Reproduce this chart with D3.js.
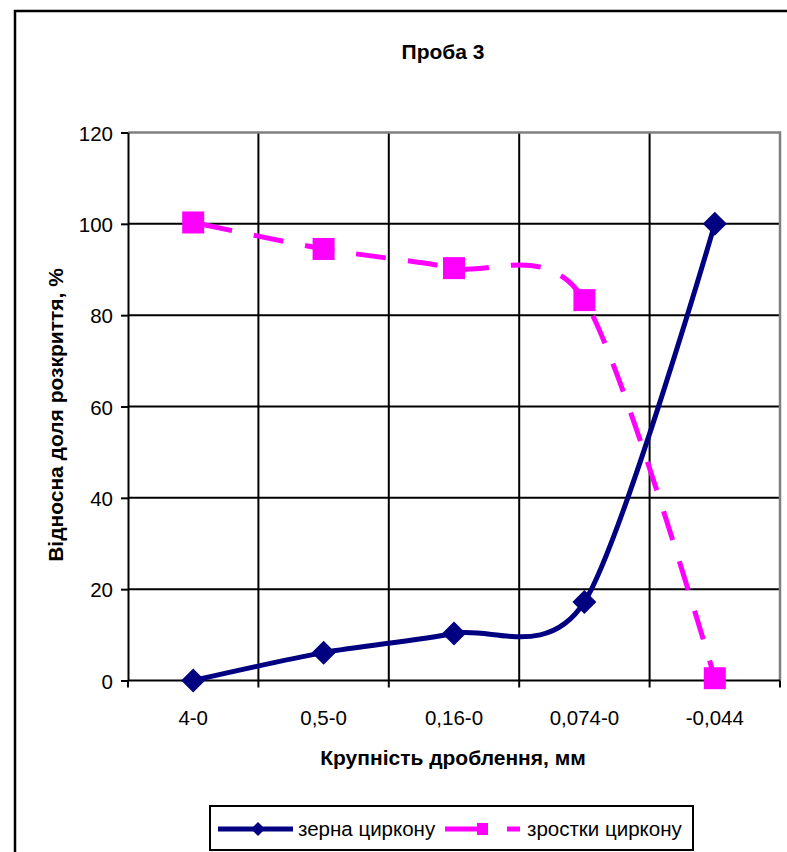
<!DOCTYPE html>
<html>
<head>
<meta charset="utf-8">
<script src="https://cdn.jsdelivr.net/npm/d3@7"></script>
<style>
  html, body { margin: 0; padding: 0; background: #fff; }
  svg { display: block; }
  text { font-family: "Liberation Sans", Arial, sans-serif; fill: #000; }
</style>
</head>
<body>
<svg id="chart" width="787" height="852"></svg>
<script>
// Sample 3: relative share of liberation by crushing size
const chartTitle = "Проба 3";
const xTitle = "Крупність дроблення, мм";
const yTitle = "Відносна доля розкриття, %";
const categories = ["4-0", "0,5-0", "0,16-0", "0,074-0", "-0,044"];
const grainsName = "зерна циркону";
const grains = [0, 6.1, 10.3, 17.2, 100];
const intergrowthsName = "зростки циркону";
const intergrowths = [100.3, 94.5, 90.3, 83.3, 0.5];
const yTicks = [0, 20, 40, 60, 80, 100, 120];

const svg = d3.select("#chart");

function label(parent, x, y, str, opts = {}) {
  const g = parent.append("g").attr("transform", `translate(${x},${y})${opts.rotate ? " rotate(-90)" : ""}`);
  return g.append("text")
    .attr("x", 0).attr("y", 0)
    .attr("text-anchor", opts.anchor || "middle")
    .attr("font-size", opts.size || 20.5)
    .attr("font-weight", opts.bold ? "bold" : "normal")
    .text(str);
}

// outer chart frame
svg.append("rect").attr("x", 0).attr("y", 0).attr("width", 787).attr("height", 852).attr("fill", "#fff");
svg.append("rect").attr("x", 15).attr("y", 11).attr("width", 800).attr("height", 900)
  .attr("fill", "none").attr("stroke", "#000").attr("stroke-width", 2.5);

const plot = { left: 128, right: 780, top: 132.5, bottom: 680.5 };

const x = d3.scaleBand().domain(categories).range([plot.left, plot.right]);
const cx = c => x(c) + x.bandwidth() / 2;
const y = d3.scaleLinear().domain([0, 120]).range([plot.bottom, plot.top]);

// horizontal gridlines
svg.append("g").selectAll("line").data(yTicks.filter(t => t > 0 && t < 120)).join("line")
  .attr("x1", plot.left).attr("x2", plot.right)
  .attr("y1", d => y(d)).attr("y2", d => y(d))
  .attr("stroke", "#000").attr("stroke-width", 2);

// vertical gridlines at category boundaries
svg.append("g").selectAll("line").data(categories.slice(1)).join("line")
  .attr("x1", d => x(d)).attr("x2", d => x(d))
  .attr("y1", plot.top).attr("y2", plot.bottom)
  .attr("stroke", "#000").attr("stroke-width", 2);

// plot area border (top and right)
svg.append("path")
  .attr("d", `M${plot.left},${plot.top}H${plot.right}V${plot.bottom}`)
  .attr("fill", "none").attr("stroke", "#808080").attr("stroke-width", 2.5);

// y axis
const yAxis = svg.append("g").attr("transform", `translate(${plot.left},0)`)
  .call(d3.axisLeft(y).tickValues(yTicks).tickSize(7).tickSizeOuter(0).tickFormat(d3.format("d")));
yAxis.select(".domain").attr("stroke", "#000").attr("stroke-width", 2);
yAxis.selectAll(".tick line").attr("stroke", "#000").attr("stroke-width", 2);
yAxis.selectAll(".tick text").remove();
yAxis.selectAll(".tick").each(function (d) {
  label(d3.select(this), -15, 7.5, d, { anchor: "end" });
});

// x axis with ticks between categories
const xAxis = svg.append("g").attr("transform", `translate(0,${plot.bottom})`);
xAxis.append("line").attr("x1", plot.left).attr("x2", plot.right).attr("y1", 0).attr("y2", 0)
  .attr("stroke", "#000").attr("stroke-width", 2);
xAxis.selectAll("line.tk").data(categories.map(c => x(c)).concat([plot.right])).join("line")
  .attr("class", "tk")
  .attr("x1", d => d).attr("x2", d => d).attr("y1", 0).attr("y2", 7)
  .attr("stroke", "#000").attr("stroke-width", 2);
categories.forEach(c => label(xAxis, cx(c), 44, c));

// titles
label(svg, 443, 59, chartTitle, { bold: true, size: 21 });
label(svg, 453, 765, xTitle, { bold: true, size: 21 });
label(svg, 63, 415, yTitle, { bold: true, size: 21, rotate: true });

// series (smoothed lines)
const curve = d3.curveCardinal.tension(0.15);
const line = d3.line().x((d, i) => cx(categories[i])).y(d => y(d)).curve(curve);

svg.append("path").datum(intergrowths).attr("d", line)
  .attr("fill", "none").attr("stroke", "#FF00FF").attr("stroke-width", 5)
  .attr("stroke-dasharray", "30,22").attr("stroke-dashoffset", -10);

svg.append("path").datum(grains).attr("d", line)
  .attr("fill", "none").attr("stroke", "#000080").attr("stroke-width", 5);

const diamond = r => `M0,${-r}L${r},0L0,${r}L${-r},0Z`;

svg.append("g").selectAll("rect").data(intergrowths).join("rect")
  .attr("x", (d, i) => cx(categories[i]) - 11).attr("y", d => y(d) - 11)
  .attr("width", 22).attr("height", 22).attr("fill", "#FF00FF");

svg.append("g").selectAll("path").data(grains).join("path")
  .attr("transform", (d, i) => `translate(${cx(categories[i])},${y(d)})`)
  .attr("d", diamond(12)).attr("fill", "#000080");

// legend
const lg = svg.append("g");
lg.append("rect").attr("x", 210).attr("y", 806).attr("width", 483).attr("height", 44)
  .attr("fill", "#fff").attr("stroke", "#000").attr("stroke-width", 2);
lg.append("line").attr("x1", 218).attr("x2", 293).attr("y1", 829).attr("y2", 829)
  .attr("stroke", "#000080").attr("stroke-width", 5);
lg.append("path").attr("transform", "translate(258,829)").attr("d", diamond(7)).attr("fill", "#000080");
label(lg, 298, 836, grainsName, { anchor: "start" });

lg.append("line").attr("x1", 445).attr("x2", 520).attr("y1", 829).attr("y2", 829)
  .attr("stroke", "#FF00FF").attr("stroke-width", 5).attr("stroke-dasharray", "42,20");
lg.append("rect").attr("x", 477).attr("y", 823).attr("width", 11).attr("height", 12).attr("fill", "#FF00FF");
label(lg, 527, 836, intergrowthsName, { anchor: "start" });
</script>
</body>
</html>
